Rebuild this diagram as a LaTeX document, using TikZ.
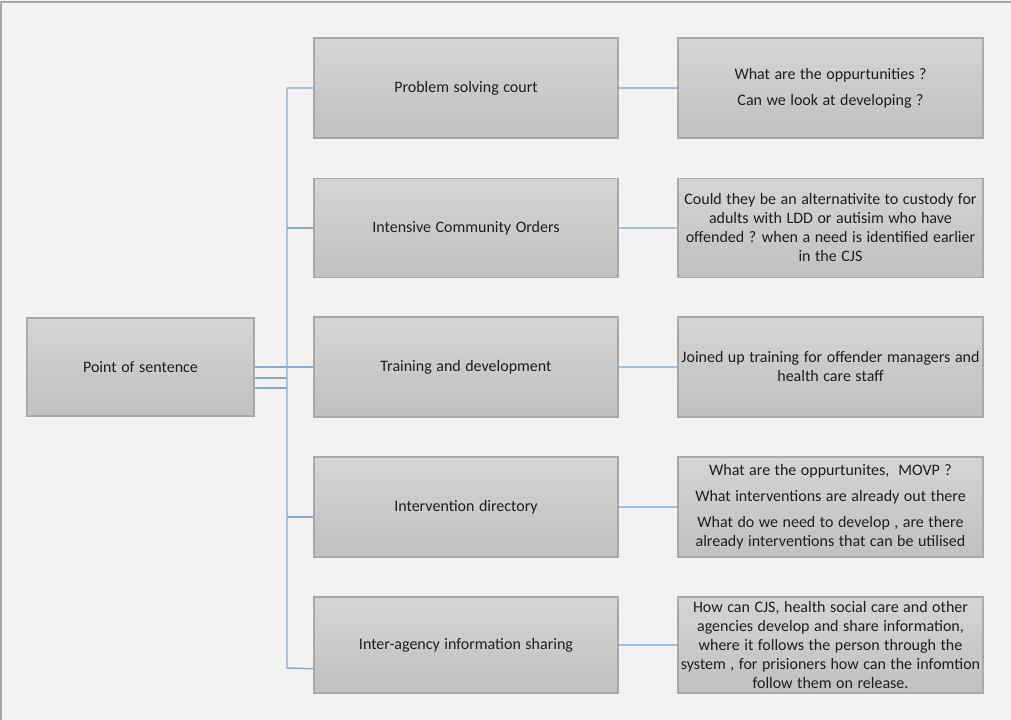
\documentclass[tikz,border=0pt]{standalone}
\usepackage{fontspec}
\setmainfont{Carlito}[WordSpace={1.25,1,1}]
\usetikzlibrary{calc}
\definecolor{canvas}{HTML}{F2F2F2}
\definecolor{frame}{HTML}{A6A6A6}
\definecolor{boxtop}{HTML}{D4D4D4}
\definecolor{boxbot}{HTML}{C0C0C0}
\definecolor{boxline}{HTML}{A9A9A9}
\definecolor{trunkline}{HTML}{86ACD6}
\definecolor{leafline}{HTML}{9DC1E6}
\definecolor{ink}{HTML}{1F1F1F}
\tikzset{
  card/.style={draw=boxline, line width=1.1pt, top color=boxtop, bottom color=boxbot,
    inner sep=0pt, text=ink, align=center,
    font=\fontsize{12}{14.25}\selectfont},
  leftcard/.style={card, minimum width=170.25pt, minimum height=73.5pt},
  midcard/.style={card, minimum width=228pt, minimum height=#1},
  notecard/.style={card, minimum width=228.75pt, minimum height=#1},
  trunk/.style={draw=trunkline, line width=1.1pt},
  leaf/.style={draw=leafline, line width=1.1pt},
}
\begin{document}
\begin{tikzpicture}[x=0.75pt, y=-0.75pt]
  % page background and frame
  \useasboundingbox (0,0) rectangle (1011,720);
  \fill[canvas] (0,0) rectangle (1011,720);
  \draw[frame, line width=1.5pt] (1,720) -- (1,2) -- (1011,2);

  % root box
  \node[leftcard] (pos) at (140.5,367) {Point of sentence};

  % topic boxes
  \node[midcard=75pt]   (m1) at (466,88)  {Problem solving court};
  \node[midcard=74.25pt](m2) at (466,228) {Intensive Community Orders};
  \node[midcard=75pt]   (m3) at (466,367) {Training and development};
  \node[midcard=75pt]   (m4) at (466,507) {Intervention directory};
  \node[midcard=72pt]   (m5) at (466,645) {Inter-agency information sharing};

  % note boxes
  \node[notecard=75pt] (n1) at (830.5,88)
    {What are the oppurtunities ?\\[5.25pt] Can we look at developing ?};
  \node[notecard=74.25pt] (n2) at (830.5,228)
    {Could they be an alternativite to custody for\\ adults with LDD or autisim who have\\ offended ? when a need is identified earlier\\ in the CJS};
  \node[notecard=75pt] (n3) at (830.5,367)
    {Joined up training for offender managers and\\ health care staff};
  \node[notecard=75pt] (n4) at (830.5,507)
    {What are the oppurtunites, \ MOVP ?\\[5.25pt] What interventions are already out there\\[5.25pt] What do we need to develop , are there\\ already interventions that can be utilised};
  \node[notecard=72pt] (n5) at (830.5,645)
    {How can CJS, health social care and other\\ agencies develop and share information,\\ where it follows the person through the\\ system , for prisioners how can the infomtion\\ follow them on release.};

  % connector trunk
  \coordinate (top)  at (287,88);
  \coordinate (j4)   at (287,517);
  \coordinate (j5)   at (287,668);
  \draw[trunk] (m1.west) -- (top) -- (j5) -- ($(m5.south west)+(0,-25)$);
  \draw[trunk] (m2.west) -- (m2.west -| top);
  \draw[trunk] (pos.east) -- (m3.west);
  \draw[trunk] ($(pos.east)+(0,11)$) -- ($(pos.east -| top)+(0,11)$);
  \draw[trunk] ($(pos.east)+(0,21)$) -- ($(pos.east -| top)+(0,21)$);
  \draw[trunk] (j4) -- ($(m4.west)+(0,10)$);

  % topic to note connectors
  \foreach \i in {1,...,5} {
    \draw[leaf] (m\i.east) -- (n\i.west);
  }
\end{tikzpicture}
\end{document}
